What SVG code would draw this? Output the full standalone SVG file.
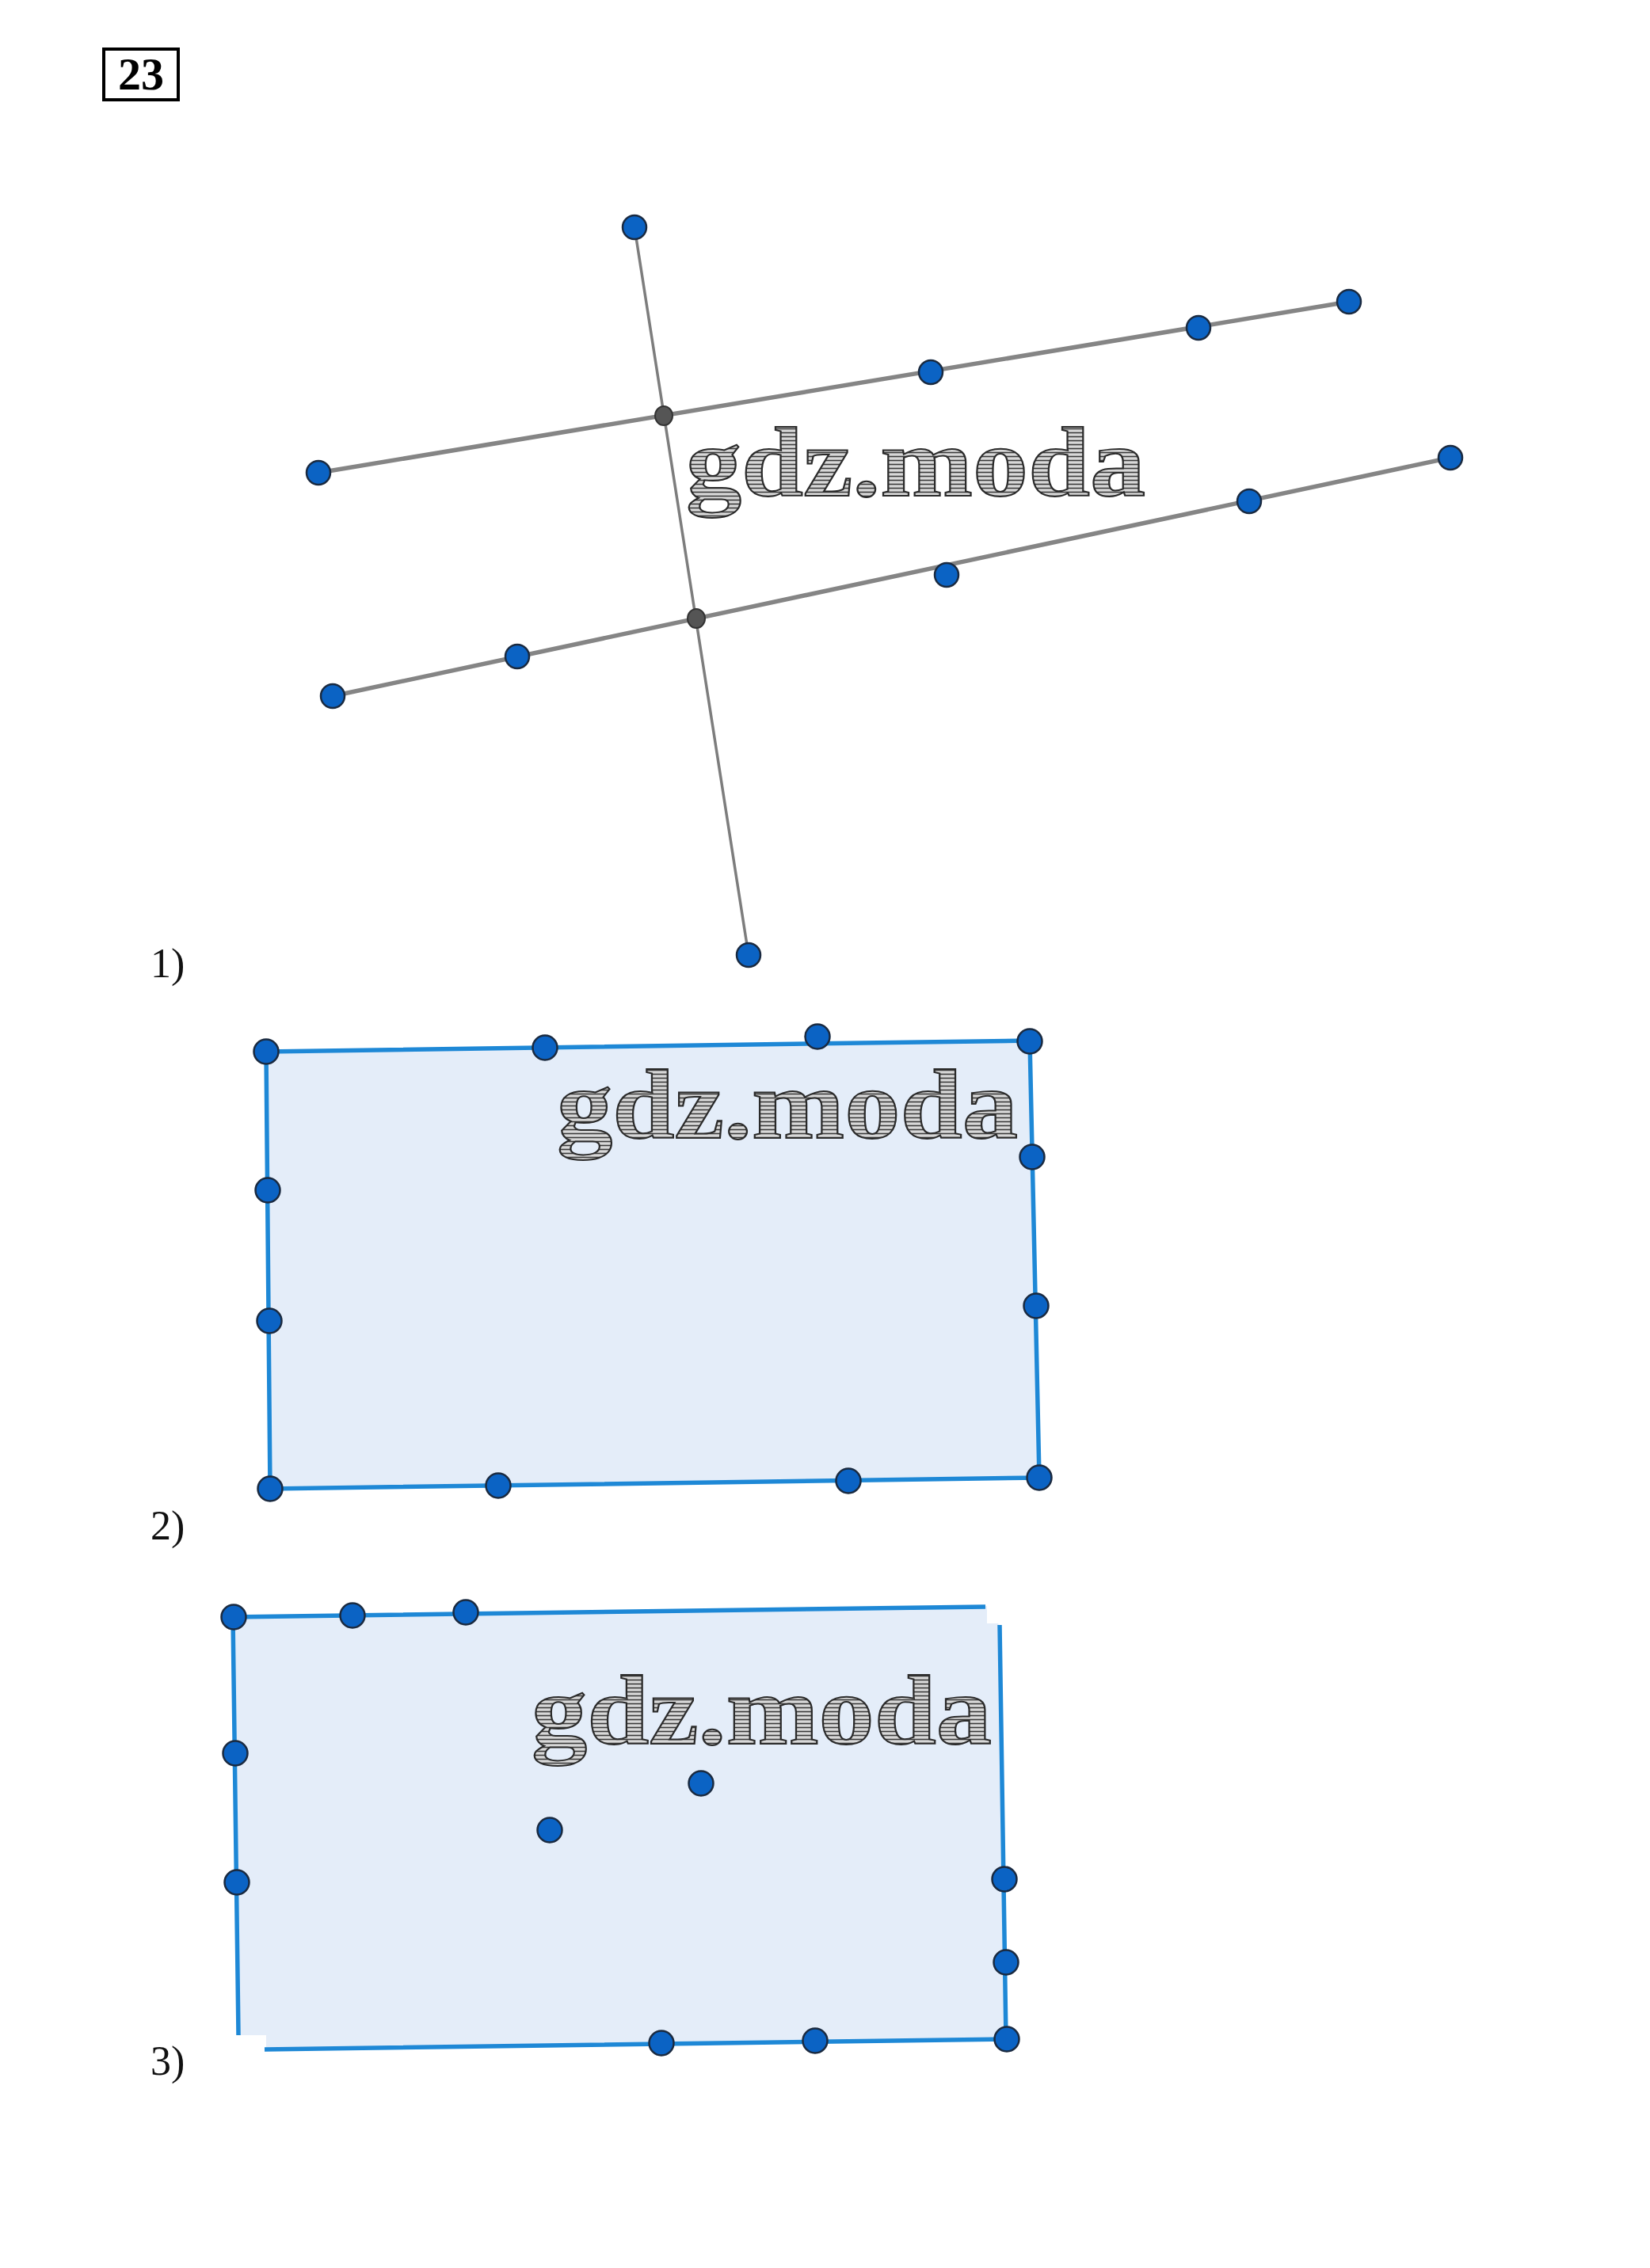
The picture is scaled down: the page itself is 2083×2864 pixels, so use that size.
<svg xmlns="http://www.w3.org/2000/svg" width="2083" height="2864" viewBox="0 0 2083 2864">
<style>
.pt{fill:#0b63c4;stroke:#1a2a40;stroke-width:2.5}
.ix{fill:#555;stroke:#333;stroke-width:2}
.gl{stroke:#858585;stroke-width:5.5;stroke-linecap:round;fill:none}
.gv{stroke:#7d7d7d;stroke-width:3.5;fill:none}
.be{stroke:#1e88d6;stroke-width:5.5;fill:none;stroke-linecap:butt}
.fill{fill:#e4edf9;stroke:none}
.lbl{font-family:"Liberation Serif",serif;font-size:52px;fill:#111}
.wm{font-family:"Liberation Serif",serif;font-weight:bold;font-size:124px;fill:url(#hatch);stroke:#2a2a2a;stroke-width:2}
</style>
<defs>
<pattern id="hatch" patternUnits="userSpaceOnUse" width="8" height="5">
<rect width="8" height="5" fill="#d8d8d8"/>
<line x1="0" y1="1.5" x2="8" y2="1.5" stroke="#3a3a3a" stroke-width="1.6"/>
</pattern>
</defs>
<rect width="2083" height="2864" fill="#fff"/>

<g id="title">
<rect x="131" y="62" width="94" height="64" fill="none" stroke="#000" stroke-width="4"/>
<text x="178" y="113" text-anchor="middle" font-family="Liberation Serif,serif" font-weight="bold" font-size="58">23</text>
</g>

<g id="labels">
<text class="lbl" x="190" y="1234">1)</text>
<text class="lbl" x="190" y="1944">2)</text>
<text class="lbl" x="190" y="2620">3)</text>
</g>

<!-- figure 2 and 3 fills -->
<polygon class="fill" points="336,1328 1300,1314 1312,1866 341,1880"/>
<polygon class="fill" points="294,2042 1260,2028 1270,2575 302,2590"/>
<rect x="1246" y="2020" width="20" height="30" fill="#fff"/>
<polygon points="292,2570 336,2570 336,2600 292,2600" fill="#fff"/>

<g id="connectors">
<line class="gv" x1="801" y1="287" x2="945" y2="1206"/>
<line class="gl" x1="402" y1="597" x2="1703" y2="381"/>
<line class="gl" x1="420" y1="879" x2="1831" y2="578"/>
<polygon class="be" points="336,1328 1300,1314 1312,1866 341,1880"/>
<polyline class="be" points="1244,2029 294,2042 301,2570"/>
<polyline class="be" points="1262,2052 1270,2575 334,2588"/>
</g>

<g id="watermarks">
<text class="wm" x="866" y="626" textLength="580" lengthAdjust="spacingAndGlyphs">gdz.moda</text>
<text class="wm" x="703" y="1437" textLength="582" lengthAdjust="spacingAndGlyphs">gdz.moda</text>
<text class="wm" x="671" y="2202" textLength="581" lengthAdjust="spacingAndGlyphs">gdz.moda</text>
</g>

<g id="fig1-nodes">
<g id="v-top"><ellipse class="pt" cx="801" cy="287" rx="15" ry="15"/></g>
<g id="v-bottom"><ellipse class="pt" cx="945" cy="1206" rx="15" ry="15"/></g>
<g id="x1"><ellipse class="ix" cx="838" cy="525" rx="11" ry="12"/></g>
<g id="x2"><ellipse class="ix" cx="879" cy="781" rx="11" ry="12"/></g>
<g id="a1"><ellipse class="pt" cx="402" cy="597" rx="15" ry="15"/></g>
<g id="a2"><ellipse class="pt" cx="1175" cy="470" rx="15" ry="15"/></g>
<g id="a3"><ellipse class="pt" cx="1513" cy="414" rx="15" ry="15"/></g>
<g id="a4"><ellipse class="pt" cx="1703" cy="381" rx="15" ry="15"/></g>
<g id="b1"><ellipse class="pt" cx="420" cy="879" rx="15" ry="15"/></g>
<g id="b2"><ellipse class="pt" cx="653" cy="829" rx="15" ry="15"/></g>
<g id="b3"><ellipse class="pt" cx="1195" cy="726" rx="15" ry="15"/></g>
<g id="b4"><ellipse class="pt" cx="1577" cy="633" rx="15" ry="15"/></g>
<g id="b5"><ellipse class="pt" cx="1831" cy="578" rx="15" ry="15"/></g>
</g>

<g id="fig2-nodes">
<g id="r2-tl"><circle class="pt" cx="336" cy="1328" r="15.5"/></g>
<g id="r2-t1"><circle class="pt" cx="688" cy="1323" r="15.5"/></g>
<g id="r2-t2"><circle class="pt" cx="1032" cy="1309" r="15.5"/></g>
<g id="r2-tr"><circle class="pt" cx="1300" cy="1315" r="15.5"/></g>
<g id="r2-r1"><circle class="pt" cx="1303" cy="1461" r="15.5"/></g>
<g id="r2-r2"><circle class="pt" cx="1308" cy="1649" r="15.5"/></g>
<g id="r2-br"><circle class="pt" cx="1312" cy="1866" r="15.5"/></g>
<g id="r2-b1"><circle class="pt" cx="1071" cy="1870" r="15.5"/></g>
<g id="r2-b2"><circle class="pt" cx="629" cy="1876" r="15.5"/></g>
<g id="r2-bl"><circle class="pt" cx="341" cy="1880" r="15.5"/></g>
<g id="r2-l1"><circle class="pt" cx="338" cy="1503" r="15.5"/></g>
<g id="r2-l2"><circle class="pt" cx="340" cy="1668" r="15.5"/></g>
</g>

<g id="fig3-nodes">
<g id="r3-tl"><circle class="pt" cx="295" cy="2042" r="15.5"/></g>
<g id="r3-t1"><circle class="pt" cx="445" cy="2040" r="15.5"/></g>
<g id="r3-t2"><circle class="pt" cx="588" cy="2036" r="15.5"/></g>
<g id="r3-l1"><circle class="pt" cx="297" cy="2214" r="15.5"/></g>
<g id="r3-l2"><circle class="pt" cx="299" cy="2377" r="15.5"/></g>
<g id="r3-i1"><circle class="pt" cx="885" cy="2252" r="15.5"/></g>
<g id="r3-i2"><circle class="pt" cx="694" cy="2311" r="15.5"/></g>
<g id="r3-r1"><circle class="pt" cx="1268" cy="2373" r="15.5"/></g>
<g id="r3-r2"><circle class="pt" cx="1270" cy="2478" r="15.5"/></g>
<g id="r3-br"><circle class="pt" cx="1271" cy="2575" r="15.5"/></g>
<g id="r3-b1"><circle class="pt" cx="1029" cy="2577" r="15.5"/></g>
<g id="r3-b2"><circle class="pt" cx="835" cy="2580" r="15.5"/></g>
</g>
</svg>
